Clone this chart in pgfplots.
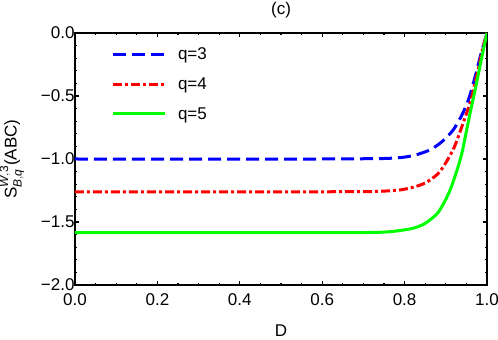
\documentclass[border=0pt]{standalone}
\usepackage{pgfplots}
\usepackage{amsmath}
\usepackage{fontspec}
\setmainfont{Liberation Sans}
\pgfplotsset{compat=1.18}

\definecolor{mblue}{RGB}{0,0,255}
\definecolor{mred}{RGB}{255,0,0}
\definecolor{mgreen}{RGB}{0,255,0}

\begin{document}
\begin{tikzpicture}
\useasboundingbox (-75pt,-55pt) rectangle (423pt,285pt);
\begin{axis}[
    at={(0,0)}, anchor=south west,
    scale only axis,
    width=412pt, height=252pt,
    xmin=0, xmax=1, ymin=-2, ymax=0,
    axis line style={line width=1.6pt},
    tick align=inside,
    xtick={0,0.2,0.4,0.6,0.8,1},
    xticklabels={0.0,0.2,0.4,0.6,0.8,1.0},
    ytick={-2,-1.5,-1,-0.5,0},
    yticklabels={−2.0,−1.5,−1.0,−0.5,0.0},
    minor x tick num=3, minor y tick num=4,
    major tick length=4pt, minor tick length=2.5pt,
    every tick/.style={black, line width=1.1pt},
    tick label style={font=\fontsize{17}{19}\selectfont},
    xticklabel style={yshift=-5pt},
    yticklabel style={xshift=3pt},
    every axis title shift=0pt,
    title={(c)},
    title style={at={(axis description cs:0.5,1.09)}, anchor=center, inner sep=0pt, font=\fontsize{17}{19}\selectfont},
    xlabel={D},
    xlabel style={at={(axis description cs:0.5,-0.18)}, anchor=center, inner sep=0pt, font=\fontsize{17}{19}\selectfont},
    ylabel={S$^{\text{\itshape W},\text{3}}_{\text{\itshape B},\text{\itshape q}}$(ABC)},
    ylabel style={at={(axis description cs:-0.153,0.5)}, anchor=center, inner sep=0pt, font=\fontsize{17}{19}\selectfont},
    legend style={at={(axis description cs:0.087,0.95)}, anchor=north west,
        draw=none, fill=none, inner sep=0pt, row sep=12.5pt,
        font=\fontsize{17}{19}\selectfont},
    legend cell align=left,
    legend image code/.code={\draw[#1] (0pt,0pt) -- (52pt,0pt); \path (62pt,0pt);},
]
\addplot[mblue, line width=3pt, dash pattern=on 13pt off 6pt, smooth] coordinates {
(0,-1) (0.6,-1) (0.7,-0.998) (0.76,-0.995) (0.8,-0.985) (0.83,-0.965)
(0.86,-0.93) (0.88,-0.89) (0.9,-0.835) (0.92,-0.76) (0.94,-0.645)
(0.955,-0.53) (0.965,-0.42) (0.975,-0.3) (0.985,-0.17) (0.993,-0.08) (1,0)
};
\addlegendentry{q=3}
\addplot[mred, line width=3pt, dash pattern=on 9pt off 3pt on 3pt off 3pt, smooth] coordinates {
(0,-1.26) (0.6,-1.26) (0.72,-1.258) (0.76,-1.253) (0.79,-1.245) (0.82,-1.225)
(0.85,-1.19) (0.88,-1.12) (0.9,-1.03) (0.92,-0.91) (0.935,-0.78) (0.95,-0.64)
(0.96,-0.55) (0.97,-0.41) (0.98,-0.27) (0.99,-0.12) (1,0)
};
\addlegendentry{q=4}
\addplot[mgreen, line width=3pt, smooth] coordinates {
(0,-1.585) (0.6,-1.585) (0.72,-1.583) (0.76,-1.578) (0.79,-1.567) (0.82,-1.55)
(0.845,-1.52) (0.865,-1.475) (0.88,-1.43) (0.89,-1.38) (0.9,-1.32) (0.91,-1.25)
(0.92,-1.16) (0.93,-1.06) (0.94,-0.94) (0.95,-0.78) (0.96,-0.62) (0.97,-0.47)
(0.98,-0.31) (0.99,-0.15) (1,0)
};
\addlegendentry{q=5}
\end{axis}
\end{tikzpicture}
\end{document}
